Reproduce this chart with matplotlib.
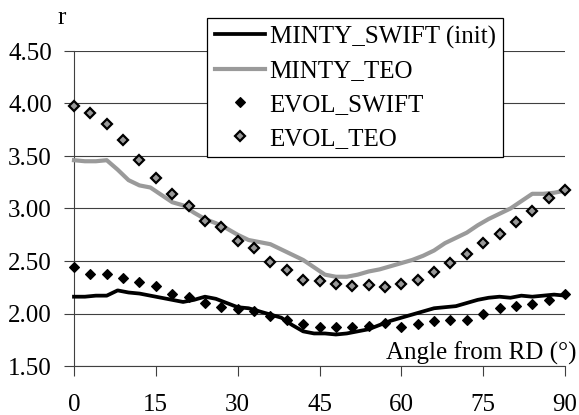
import numpy as np
import matplotlib
matplotlib.use("Agg")
import matplotlib.pyplot as plt

plt.rcParams['font.family'] = ['Liberation Serif', 'DejaVu Serif']

# simulation curves (every 2 degrees)
angle_line = np.arange(0, 91, 2)
minty_swift = [2.16, 2.16, 2.17, 2.17, 2.22, 2.20, 2.19, 2.17, 2.15, 2.13,
               2.11, 2.13, 2.16, 2.14, 2.10, 2.06, 2.05, 2.02, 1.99, 1.96,
               1.89, 1.83, 1.81, 1.81, 1.80, 1.81, 1.83, 1.85, 1.89, 1.93,
               1.96, 1.99, 2.02, 2.05, 2.06, 2.07, 2.10, 2.13, 2.15, 2.16,
               2.15, 2.17, 2.16, 2.17, 2.18, 2.17]
minty_teo = [3.46, 3.45, 3.45, 3.46, 3.37, 3.27, 3.22, 3.20, 3.13, 3.06,
             3.03, 2.96, 2.90, 2.86, 2.81, 2.75, 2.70, 2.68, 2.66, 2.61,
             2.56, 2.51, 2.44, 2.37, 2.35, 2.35, 2.37, 2.40, 2.42, 2.45,
             2.48, 2.51, 2.55, 2.60, 2.67, 2.72, 2.77, 2.84, 2.90, 2.95,
             3.00, 3.07, 3.14, 3.14, 3.15, 3.17]

# evolution points (every 3 degrees)
angle_pts = np.arange(0, 91, 3)
evol_swift = [2.44, 2.38, 2.38, 2.34, 2.30, 2.26, 2.19, 2.16, 2.10, 2.06,
              2.04, 2.02, 1.98, 1.94, 1.90, 1.87, 1.87, 1.87, 1.88, 1.91,
              1.87, 1.90, 1.93, 1.94, 1.94, 2.00, 2.05, 2.07, 2.09, 2.13,
              2.19]
evol_teo = [3.98, 3.91, 3.80, 3.65, 3.46, 3.29, 3.14, 3.02, 2.88, 2.82,
            2.69, 2.62, 2.49, 2.41, 2.32, 2.31, 2.28, 2.26, 2.27, 2.25,
            2.28, 2.32, 2.40, 2.48, 2.57, 2.67, 2.76, 2.87, 2.98, 3.10,
            3.18]

xticks = [0, 15, 30, 45, 60, 75, 90]
yticks = [1.5, 2.0, 2.5, 3.0, 3.5, 4.0, 4.5]

fig = plt.figure(figsize=(5.79, 4.15), dpi=100)
ax = fig.add_axes([74 / 579, 1 - 366 / 415, 491 / 579, 315 / 415])

ax.plot(angle_line, minty_swift, color='black', lw=2.7,
        label='MINTY_SWIFT (init)', clip_on=False, zorder=3)
ax.plot(angle_line, minty_teo, color='#9a9a9a', lw=3.0,
        label='MINTY_TEO', clip_on=False, zorder=3)
ax.plot(angle_pts, evol_swift, 'D', color='black', ms=5.3, mew=0.8,
        label='EVOL_SWIFT', clip_on=False, zorder=4)
ax.plot(angle_pts, evol_teo, 'D', mfc='#999999', mec='black', ms=5.3, mew=1.6,
        label='EVOL_TEO', clip_on=False, zorder=4)

ax.set_xlim(0, 90)
ax.set_ylim(1.5, 4.5)
ax.set_xticks(xticks)
ax.set_yticks(yticks)
ax.set_yticklabels([f'{v:.2f}' for v in yticks])
ax.tick_params(axis='x', length=7, width=0.8, pad=13, labelsize=18, color='#404040')
ax.tick_params(axis='y', length=7, width=0.8, pad=9, labelsize=18, color='#404040')
ax.grid(axis='y', color='#404040', lw=0.8)
ax.set_axisbelow(True)
for s in ['top', 'right']:
    ax.spines[s].set_visible(False)
for s in ['left', 'bottom']:
    ax.spines[s].set_color('#404040')
    ax.spines[s].set_linewidth(0.8)

fig.text(62 / 579, 1 - 18 / 415, 'r', fontsize=18, ha='center', va='center')
fig.text(577 / 579, 1 - 360 / 415, 'Angle from RD (°)', fontsize=18,
         ha='right', va='baseline')

leg = fig.legend(loc='upper left', bbox_to_anchor=(207 / 579, 1 - 18 / 415),
                 fontsize=18, numpoints=1, handlelength=2.0, handletextpad=0.2,
                 borderpad=0.3, labelspacing=0.45, borderaxespad=0,
                 fancybox=False, framealpha=1, edgecolor='black')
leg.get_frame().set_linewidth(0.9)

fig.savefig('out.png', dpi=100)
